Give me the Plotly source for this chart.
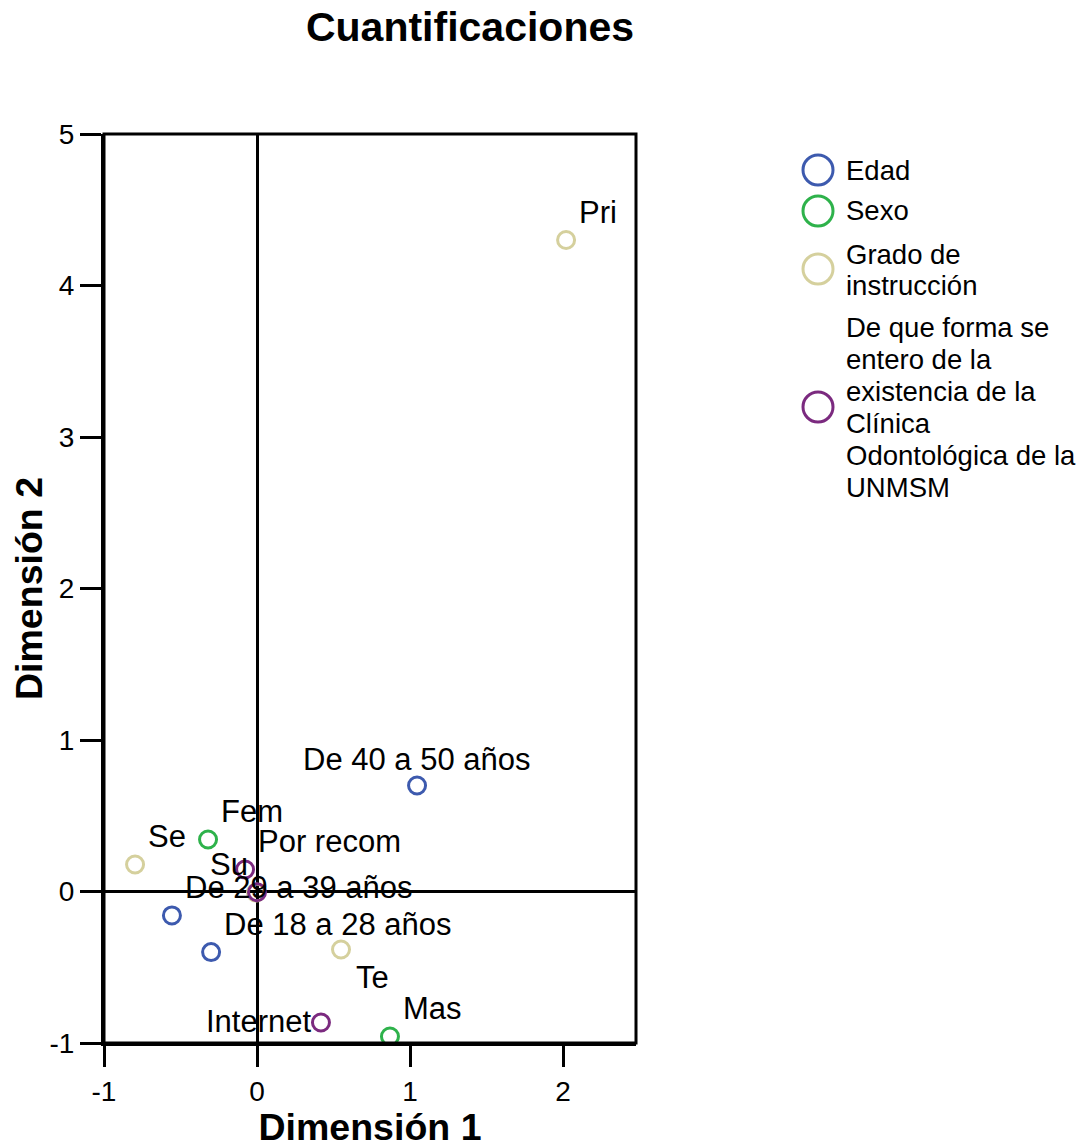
import plotly.graph_objects as go

# ---------------- data ----------------
edad_labels = ["De 18 a 28 años", "De 29 a 39 años", "De 40 a 50 años"]
edad_x = [-0.30, -0.556, 1.046]
edad_y = [-0.40, -0.158, 0.70]

sexo_labels = ["Fem", "Mas"]
sexo_x = [-0.32, 0.869]
sexo_y = [0.343, -0.957]

grado_labels = ["Pri", "Se", "Su", "Te"]
grado_x = [2.02, -0.797, -0.007, 0.549]
grado_y = [4.30, 0.178, -0.007, -0.383]

forma_labels = ["Por recom", "Internet", ""]
forma_x = [-0.078, 0.418, 0.0]
forma_y = [0.145, -0.865, -0.005]

x_ticks = [-1, 0, 1, 2]
y_ticks = [-1, 0, 1, 2, 3, 4, 5]

legend_names = ["Edad", "Sexo", "Grado de<br>instrucción",
                "De que forma se<br>entero de la<br>existencia de la<br>Clínica<br>Odontológica de la<br>UNMSM"]

# ---------------- style ----------------
FONT = "Liberation Sans, Arial, sans-serif"
colors = ["#3D5AAE", "#2EB24B", "#D5D09D", "#7B2A7F"]

# label placement (pixel offsets relative to marker)
default_off = ("left", 11, 28)
label_off = {
    "De 40 a 50 años": ("center", 0, 26),
    "Te": ("left", 13, -28),
    "Internet": ("right", -7, 1),
    "Su": ("left", -48, 28),
}

OFF = 8  # page body margin
W, H = 1092 - OFF, 1148 - OFF
L, R, T, B = 104 - OFF, 636 - OFF, 134 - OFF, 1043 - OFF

fig = go.Figure()
groups = [
    (legend_names[0], edad_x, edad_y, edad_labels, colors[0]),
    (legend_names[1], sexo_x, sexo_y, sexo_labels, colors[1]),
    (legend_names[2], grado_x, grado_y, grado_labels, colors[2]),
    (legend_names[3], forma_x, forma_y, forma_labels, colors[3]),
]
annotations = []
for name, xs, ys, labs, col in groups:
    fig.add_trace(go.Scatter(
        x=xs, y=ys, mode="markers", name=name, text=labs, showlegend=False,
        marker=dict(symbol="circle-open", size=17, color=col, line=dict(width=3, color=col)),
    ))
    for x, y, lab in zip(xs, ys, labs):
        if not lab:
            continue
        anc, dx, dy = label_off.get(lab, default_off)
        annotations.append(dict(
            x=x, y=y, xref="x", yref="y", text=lab, showarrow=False,
            xanchor=anc, yanchor="middle", xshift=dx, yshift=dy,
            font=dict(family=FONT, size=31, color="black"),
        ))

# manual legend
pw, ph = R - L, B - T
def px_to_paper_x(px):
    return (px - OFF - L) / pw
def px_to_paper_y(py):
    return (B - (py - OFF)) / ph

legend_centers = [170, 211, 270, 407.5]
legend_circle_y = [170, 211, 269, 407]
line_gap = 32
shapes = []
for name, col, cy, ccy in zip(legend_names, colors, legend_centers, legend_circle_y):
    shapes.append(dict(
        type="circle", xref="paper", yref="paper",
        xsizemode="pixel", ysizemode="pixel",
        xanchor=px_to_paper_x(818), yanchor=px_to_paper_y(ccy),
        x0=-15, x1=15, y0=-15, y1=15,
        line=dict(color=col, width=3), fillcolor="rgba(0,0,0,0)",
    ))
    lines = name.split("<br>")
    n = len(lines)
    for i, ln in enumerate(lines):
        ly = cy + (i - (n - 1) / 2) * line_gap
        annotations.append(dict(
            x=px_to_paper_x(844), y=px_to_paper_y(ly), xref="paper", yref="paper",
            text=ln, showarrow=False, xanchor="left", yanchor="middle",
            font=dict(family=FONT, size=27.5, color="black"),
        ))

# frame
shapes.append(dict(type="rect", xref="paper", yref="paper", x0=0, x1=1, y0=0, y1=1,
                   line=dict(color="black", width=3), layer="above"))

fig.update_layout(
    width=W, height=H,
    margin=dict(l=L, r=W - R, t=T, b=H - B, autoexpand=False),
    paper_bgcolor="white", plot_bgcolor="white",
    font=dict(family=FONT, color="black"),
    title=dict(text="<b>Cuantificaciones</b>", x=px_to_paper_x(470), xref="paper", xanchor="center",
               y=1 - (27 - OFF) / H, yref="container", yanchor="middle",
               font=dict(family=FONT, size=41, color="black"), automargin=False),
    annotations=annotations,
    shapes=shapes,
    showlegend=False,
)
fig.update_xaxes(
    range=[-1, 2.477], tickvals=x_ticks, ticktext=[str(v) for v in x_ticks],
    showgrid=False, zeroline=True, zerolinecolor="black", zerolinewidth=2.5,
    showline=True, linecolor="black", linewidth=3, automargin=False,
    ticks="outside", ticklen=21, tickwidth=3, tickcolor="black",
    tickfont=dict(family=FONT, size=28, color="black"),
    title=dict(text="<b>Dimensión 1</b>", font=dict(family=FONT, size=37.5, color="black"), standoff=12),
)
fig.update_yaxes(
    range=[-1, 5], tickvals=y_ticks, ticktext=[str(v) for v in y_ticks],
    showgrid=False, zeroline=True, zerolinecolor="black", zerolinewidth=2.5,
    showline=True, linecolor="black", linewidth=3, automargin=False,
    ticks="outside", ticklen=21, tickwidth=3, tickcolor="black",
    tickfont=dict(family=FONT, size=28, color="black"),
    title=dict(text="<b>Dimensión 2</b>", font=dict(family=FONT, size=37.5, color="black"), standoff=24),
)

fig.write_html("out.html")
